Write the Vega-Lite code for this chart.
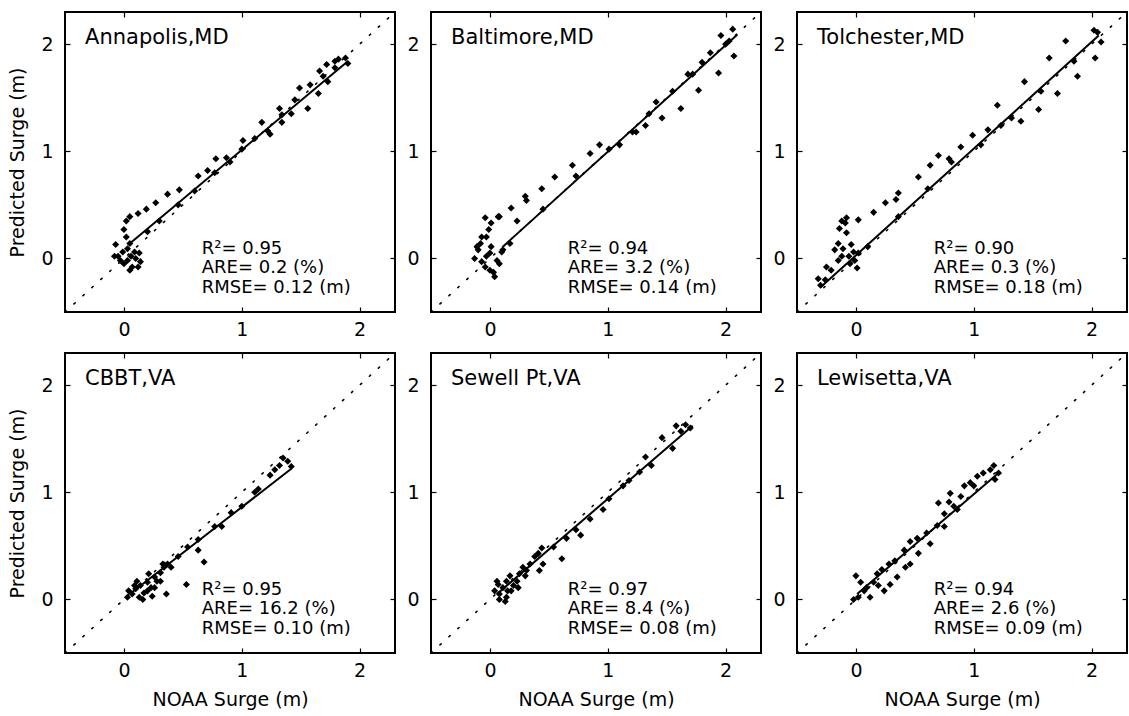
{
"$schema":"https://vega.github.io/schema/vega-lite/v6.json",
"background":"white",
"padding":{"left":7,"top":7,"right":0,"bottom":0},
"datasets":{
"diag":[{"v":-0.5},{"v":2.3}],
"fit":[
{"s":"AN","x":0.05,"y":0.14},{"s":"AN","x":1.90,"y":1.84},
{"s":"BA","x":0.11,"y":0.11},{"s":"BA","x":2.10,"y":2.09},
{"s":"TO","x":-0.30,"y":-0.27},{"s":"TO","x":2.06,"y":2.08},
{"s":"CB","x":0.05,"y":0.05},{"s":"CB","x":1.42,"y":1.22},
{"s":"SE","x":0.06,"y":0.05},{"s":"SE","x":1.72,"y":1.62},
{"s":"LE","x":0.01,"y":0.05},{"s":"LE","x":1.20,"y":1.17}
],
"ann":[
{"s":"AN","name":"Annapolis,MD","r2":"R²= 0.95","are":"ARE= 0.2 (%)","rmse":"RMSE= 0.12 (m)"},
{"s":"BA","name":"Baltimore,MD","r2":"R²= 0.94","are":"ARE= 3.2 (%)","rmse":"RMSE= 0.14 (m)"},
{"s":"TO","name":"Tolchester,MD","r2":"R²= 0.90","are":"ARE= 0.3 (%)","rmse":"RMSE= 0.18 (m)"},
{"s":"CB","name":"CBBT,VA","r2":"R²= 0.95","are":"ARE= 16.2 (%)","rmse":"RMSE= 0.10 (m)"},
{"s":"SE","name":"Sewell Pt,VA","r2":"R²= 0.97","are":"ARE= 8.4 (%)","rmse":"RMSE= 0.08 (m)"},
{"s":"LE","name":"Lewisetta,VA","r2":"R²= 0.94","are":"ARE= 2.6 (%)","rmse":"RMSE= 0.09 (m)"}
],
"pts":[
{"s":"AN","x":-0.07,"y":0.13},{"s":"AN","x":-0.05,"y":0.02},{"s":"AN","x":-0.01,"y":0.06},{"s":"AN","x":0.00,"y":-0.05},{"s":"AN","x":0.03,"y":-0.02},{"s":"AN","x":0.06,"y":0.02},{"s":"AN","x":0.07,"y":-0.08},{"s":"AN","x":0.10,"y":0.00},{"s":"AN","x":0.13,"y":0.05},{"s":"AN","x":0.14,"y":-0.03},{"s":"AN","x":0.03,"y":0.09},{"s":"AN","x":0.02,"y":0.20},{"s":"AN","x":0.00,"y":0.27},{"s":"AN","x":0.02,"y":0.35},{"s":"AN","x":0.05,"y":0.14},{"s":"AN","x":-0.03,"y":-0.02},{"s":"AN","x":0.09,"y":0.06},{"s":"AN","x":-0.08,"y":0.02},{"s":"AN","x":0.12,"y":-0.08},{"s":"AN","x":0.05,"y":-0.11},
{"s":"AN","x":0.05,"y":0.39},{"s":"AN","x":0.12,"y":0.42},{"s":"AN","x":0.19,"y":0.46},{"s":"AN","x":0.27,"y":0.52},{"s":"AN","x":0.37,"y":0.60},{"s":"AN","x":0.47,"y":0.64},{"s":"AN","x":0.63,"y":0.77},{"s":"AN","x":0.71,"y":0.82},{"s":"AN","x":0.78,"y":0.93},{"s":"AN","x":0.87,"y":0.94},{"s":"AN","x":1.01,"y":1.10},{"s":"AN","x":1.17,"y":1.27},{"s":"AN","x":1.24,"y":1.16},{"s":"AN","x":1.34,"y":1.27},{"s":"AN","x":1.32,"y":1.40},{"s":"AN","x":1.42,"y":1.35},{"s":"AN","x":1.49,"y":1.59},{"s":"AN","x":1.56,"y":1.40},{"s":"AN","x":1.65,"y":1.54},{"s":"AN","x":1.73,"y":1.65},{"s":"AN","x":1.66,"y":1.75},{"s":"AN","x":1.72,"y":1.81},{"s":"AN","x":1.79,"y":1.78},{"s":"AN","x":1.82,"y":1.86},{"s":"AN","x":1.88,"y":1.87},{"s":"AN","x":1.90,"y":1.82},
{"s":"AN","x":0.20,"y":0.25},{"s":"AN","x":0.30,"y":0.35},{"s":"AN","x":0.46,"y":0.50},{"s":"AN","x":0.60,"y":0.63},{"s":"AN","x":0.77,"y":0.80},{"s":"AN","x":0.90,"y":0.90},{"s":"AN","x":1.00,"y":1.02},{"s":"AN","x":1.11,"y":1.12},{"s":"AN","x":1.22,"y":1.19},{"s":"AN","x":1.34,"y":1.34},{"s":"AN","x":1.45,"y":1.48},{"s":"AN","x":1.58,"y":1.62},{"s":"AN","x":1.69,"y":1.70},{"s":"AN","x":1.79,"y":1.84},
{"s":"BA","x":-0.13,"y":0.00},{"s":"BA","x":-0.10,"y":0.08},{"s":"BA","x":-0.08,"y":0.14},{"s":"BA","x":-0.07,"y":-0.03},{"s":"BA","x":-0.04,"y":-0.08},{"s":"BA","x":-0.03,"y":0.02},{"s":"BA","x":0.00,"y":0.05},{"s":"BA","x":0.03,"y":-0.13},{"s":"BA","x":0.04,"y":-0.17},{"s":"BA","x":0.06,"y":-0.02},{"s":"BA","x":0.08,"y":-0.05},{"s":"BA","x":0.10,"y":0.06},{"s":"BA","x":-0.03,"y":0.20},{"s":"BA","x":-0.01,"y":0.27},{"s":"BA","x":0.01,"y":0.33},{"s":"BA","x":-0.04,"y":0.38},{"s":"BA","x":0.07,"y":0.39},{"s":"BA","x":-0.07,"y":0.20},{"s":"BA","x":-0.11,"y":0.11},{"s":"BA","x":0.01,"y":0.11},{"s":"BA","x":0.11,"y":0.08},{"s":"BA","x":0.00,"y":-0.11},
{"s":"BA","x":0.08,"y":0.39},{"s":"BA","x":0.18,"y":0.47},{"s":"BA","x":0.23,"y":0.35},{"s":"BA","x":0.30,"y":0.58},{"s":"BA","x":0.31,"y":0.54},{"s":"BA","x":0.44,"y":0.65},{"s":"BA","x":0.55,"y":0.76},{"s":"BA","x":0.70,"y":0.87},{"s":"BA","x":0.85,"y":0.98},{"s":"BA","x":0.93,"y":1.06},{"s":"BA","x":1.10,"y":1.06},{"s":"BA","x":1.24,"y":1.18},{"s":"BA","x":1.32,"y":1.24},{"s":"BA","x":1.41,"y":1.46},{"s":"BA","x":1.46,"y":1.31},{"s":"BA","x":1.62,"y":1.40},{"s":"BA","x":1.68,"y":1.72},{"s":"BA","x":1.77,"y":1.57},{"s":"BA","x":1.87,"y":1.92},{"s":"BA","x":1.94,"y":1.73},{"s":"BA","x":1.96,"y":2.08},{"s":"BA","x":2.06,"y":2.14},{"s":"BA","x":2.07,"y":1.89},{"s":"BA","x":2.03,"y":2.03},
{"s":"BA","x":0.17,"y":0.14},{"s":"BA","x":0.45,"y":0.46},{"s":"BA","x":0.73,"y":0.77},{"s":"BA","x":1.01,"y":1.02},{"s":"BA","x":1.21,"y":1.18},{"s":"BA","x":1.35,"y":1.35},{"s":"BA","x":1.55,"y":1.56},{"s":"BA","x":1.72,"y":1.72},{"s":"BA","x":1.80,"y":1.83},{"s":"BA","x":2.00,"y":2.00},
{"s":"TO","x":-0.32,"y":-0.19},{"s":"TO","x":-0.30,"y":-0.25},{"s":"TO","x":-0.25,"y":-0.08},{"s":"TO","x":-0.18,"y":0.08},{"s":"TO","x":-0.15,"y":0.14},{"s":"TO","x":-0.12,"y":0.35},{"s":"TO","x":-0.09,"y":0.33},{"s":"TO","x":-0.08,"y":0.24},{"s":"TO","x":-0.06,"y":0.02},{"s":"TO","x":-0.05,"y":-0.05},{"s":"TO","x":-0.02,"y":0.06},{"s":"TO","x":-0.01,"y":-0.02},{"s":"TO","x":0.02,"y":0.05},{"s":"TO","x":-0.12,"y":0.02},{"s":"TO","x":-0.15,"y":-0.02},{"s":"TO","x":-0.11,"y":0.09},{"s":"TO","x":-0.04,"y":0.13},{"s":"TO","x":0.01,"y":-0.09},{"s":"TO","x":-0.14,"y":0.28},{"s":"TO","x":-0.08,"y":0.38},{"s":"TO","x":-0.21,"y":-0.11},{"s":"TO","x":-0.26,"y":-0.20},
{"s":"TO","x":0.02,"y":0.36},{"s":"TO","x":0.15,"y":0.43},{"s":"TO","x":0.25,"y":0.52},{"s":"TO","x":0.36,"y":0.61},{"s":"TO","x":0.34,"y":0.55},{"s":"TO","x":0.53,"y":0.76},{"s":"TO","x":0.63,"y":0.87},{"s":"TO","x":0.70,"y":0.96},{"s":"TO","x":0.79,"y":0.93},{"s":"TO","x":0.89,"y":1.04},{"s":"TO","x":0.99,"y":1.15},{"s":"TO","x":1.12,"y":1.20},{"s":"TO","x":1.20,"y":1.43},{"s":"TO","x":1.23,"y":1.24},{"s":"TO","x":1.40,"y":1.28},{"s":"TO","x":1.43,"y":1.65},{"s":"TO","x":1.55,"y":1.39},{"s":"TO","x":1.64,"y":1.87},{"s":"TO","x":1.71,"y":1.54},{"s":"TO","x":1.78,"y":2.03},{"s":"TO","x":1.88,"y":1.70},{"s":"TO","x":2.02,"y":2.13},{"s":"TO","x":2.03,"y":1.87},{"s":"TO","x":2.08,"y":2.02},{"s":"TO","x":2.05,"y":2.11},
{"s":"TO","x":0.10,"y":0.11},{"s":"TO","x":0.36,"y":0.39},{"s":"TO","x":0.61,"y":0.65},{"s":"TO","x":0.81,"y":0.90},{"s":"TO","x":1.06,"y":1.06},{"s":"TO","x":1.32,"y":1.31},{"s":"TO","x":1.57,"y":1.56},{"s":"TO","x":1.85,"y":1.84},
{"s":"CB","x":0.04,"y":0.08},{"s":"CB","x":0.07,"y":0.05},{"s":"CB","x":0.10,"y":0.10},{"s":"CB","x":0.13,"y":0.02},{"s":"CB","x":0.14,"y":0.13},{"s":"CB","x":0.17,"y":0.06},{"s":"CB","x":0.20,"y":0.16},{"s":"CB","x":0.23,"y":0.11},{"s":"CB","x":0.26,"y":0.21},{"s":"CB","x":0.28,"y":0.17},{"s":"CB","x":0.31,"y":0.25},{"s":"CB","x":0.34,"y":0.30},{"s":"CB","x":0.37,"y":0.33},{"s":"CB","x":0.24,"y":0.03},{"s":"CB","x":0.36,"y":0.05},{"s":"CB","x":0.53,"y":0.14},{"s":"CB","x":0.68,"y":0.35},{"s":"CB","x":0.40,"y":0.30},{"s":"CB","x":0.46,"y":0.40},{"s":"CB","x":0.54,"y":0.49},{"s":"CB","x":0.63,"y":0.56},{"s":"CB","x":0.63,"y":0.46},{"s":"CB","x":0.77,"y":0.68},{"s":"CB","x":0.83,"y":0.68},{"s":"CB","x":0.91,"y":0.81},{"s":"CB","x":1.00,"y":0.87},{"s":"CB","x":1.11,"y":1.00},{"s":"CB","x":1.14,"y":1.03},{"s":"CB","x":1.24,"y":1.16},{"s":"CB","x":1.32,"y":1.25},{"s":"CB","x":1.35,"y":1.32},{"s":"CB","x":1.39,"y":1.29},{"s":"CB","x":1.42,"y":1.24},{"s":"CB","x":1.28,"y":1.21},{"s":"CB","x":0.11,"y":0.17},{"s":"CB","x":0.03,"y":0.02},{"s":"CB","x":0.20,"y":0.08},{"s":"CB","x":0.26,"y":0.11},{"s":"CB","x":0.31,"y":0.17},{"s":"CB","x":0.09,"y":0.13},{"s":"CB","x":0.16,"y":0.00},{"s":"CB","x":0.21,"y":0.24},{"s":"CB","x":0.33,"y":0.33},
{"s":"SE","x":0.04,"y":0.08},{"s":"SE","x":0.07,"y":0.14},{"s":"SE","x":0.08,"y":0.05},{"s":"SE","x":0.11,"y":0.11},{"s":"SE","x":0.13,"y":-0.02},{"s":"SE","x":0.14,"y":0.17},{"s":"SE","x":0.15,"y":0.08},{"s":"SE","x":0.17,"y":0.22},{"s":"SE","x":0.20,"y":0.13},{"s":"SE","x":0.23,"y":0.17},{"s":"SE","x":0.25,"y":0.24},{"s":"SE","x":0.28,"y":0.30},{"s":"SE","x":0.31,"y":0.27},{"s":"SE","x":0.34,"y":0.33},{"s":"SE","x":0.38,"y":0.40},{"s":"SE","x":0.41,"y":0.43},{"s":"SE","x":0.44,"y":0.48},{"s":"SE","x":0.42,"y":0.27},{"s":"SE","x":0.45,"y":0.33},{"s":"SE","x":0.61,"y":0.38},{"s":"SE","x":0.54,"y":0.49},{"s":"SE","x":0.65,"y":0.57},{"s":"SE","x":0.77,"y":0.60},{"s":"SE","x":0.73,"y":0.65},{"s":"SE","x":0.85,"y":0.75},{"s":"SE","x":0.96,"y":0.84},{"s":"SE","x":1.01,"y":0.94},{"s":"SE","x":1.13,"y":1.06},{"s":"SE","x":1.18,"y":1.11},{"s":"SE","x":1.27,"y":1.19},{"s":"SE","x":1.32,"y":1.33},{"s":"SE","x":1.37,"y":1.25},{"s":"SE","x":1.46,"y":1.51},{"s":"SE","x":1.55,"y":1.41},{"s":"SE","x":1.58,"y":1.62},{"s":"SE","x":1.62,"y":1.57},{"s":"SE","x":1.66,"y":1.63},{"s":"SE","x":1.70,"y":1.60},{"s":"SE","x":0.08,"y":0.00},{"s":"SE","x":0.14,"y":0.02},{"s":"SE","x":0.18,"y":0.08},{"s":"SE","x":0.06,"y":0.17},{"s":"SE","x":0.24,"y":0.11},{"s":"SE","x":0.30,"y":0.22},
{"s":"LE","x":-0.02,"y":0.00},{"s":"LE","x":0.00,"y":0.22},{"s":"LE","x":0.04,"y":0.16},{"s":"LE","x":0.07,"y":0.08},{"s":"LE","x":0.12,"y":0.02},{"s":"LE","x":0.15,"y":0.16},{"s":"LE","x":0.18,"y":0.24},{"s":"LE","x":0.22,"y":0.28},{"s":"LE","x":0.24,"y":0.08},{"s":"LE","x":0.28,"y":0.33},{"s":"LE","x":0.29,"y":0.14},{"s":"LE","x":0.33,"y":0.36},{"s":"LE","x":0.35,"y":0.21},{"s":"LE","x":0.41,"y":0.46},{"s":"LE","x":0.42,"y":0.30},{"s":"LE","x":0.46,"y":0.54},{"s":"LE","x":0.46,"y":0.33},{"s":"LE","x":0.53,"y":0.43},{"s":"LE","x":0.52,"y":0.57},{"s":"LE","x":0.60,"y":0.62},{"s":"LE","x":0.69,"y":0.69},{"s":"LE","x":0.75,"y":0.80},{"s":"LE","x":0.79,"y":0.91},{"s":"LE","x":0.75,"y":0.68},{"s":"LE","x":0.70,"y":0.90},{"s":"LE","x":0.80,"y":0.99},{"s":"LE","x":0.83,"y":0.87},{"s":"LE","x":0.89,"y":0.96},{"s":"LE","x":0.92,"y":1.06},{"s":"LE","x":0.97,"y":1.09},{"s":"LE","x":1.03,"y":1.15},{"s":"LE","x":1.08,"y":1.18},{"s":"LE","x":1.14,"y":1.21},{"s":"LE","x":1.18,"y":1.12},{"s":"LE","x":1.21,"y":1.18},{"s":"LE","x":1.17,"y":1.25},{"s":"LE","x":1.00,"y":1.06},{"s":"LE","x":0.86,"y":0.84},{"s":"LE","x":0.63,"y":0.52},{"s":"LE","x":0.09,"y":0.11},{"s":"LE","x":0.02,"y":0.02},{"s":"LE","x":0.19,"y":0.13}
]
},
"columns":3,
"spacing":{"row":41,"column":36},
"bounds":"flush",
"concat":[
{"width":330,"height":300,"resolve":{"axis":{"x":"independent","y":"independent"}},"layer":[
{"data":{"name":"diag"},"mark":{"type":"line","color":"black","strokeWidth":1.6,"strokeDash":[1.6,10.5],"strokeCap":"round"},"encoding":{"x":{"field":"v","type":"quantitative","scale":{"domain":[-0.5,2.3],"nice":false,"zero":false},"axis":{"orient":"top","values":[0,1,2],"labels":false,"title":null}},"y":{"field":"v","type":"quantitative","scale":{"domain":[-0.5,2.3],"nice":false,"zero":false},"axis":{"orient":"right","values":[0,1,2],"labels":false,"title":null}}}},
{"data":{"name":"fit"},"transform":[{"filter":"datum.s==='AN'"}],"mark":{"type":"line","color":"black","strokeWidth":2},"encoding":{"x":{"field":"x","type":"quantitative","scale":{"domain":[-0.5,2.3],"nice":false,"zero":false},"axis":{"orient":"bottom","values":[0,1,2],"title":null}},"y":{"field":"y","type":"quantitative","scale":{"domain":[-0.5,2.3],"nice":false,"zero":false},"axis":{"orient":"left","values":[0,1,2],"title":"Predicted Surge (m)"}}}},
{"data":{"name":"pts"},"transform":[{"filter":"datum.s==='AN'"}],"mark":{"type":"point","shape":"diamond","filled":true,"color":"black","opacity":1,"size":50},"encoding":{"x":{"field":"x","type":"quantitative","axis":null},"y":{"field":"y","type":"quantitative","axis":null}}},
{"data":{"name":"ann"},"transform":[{"filter":"datum.s==='AN'"}],"mark":{"type":"text","align":"left","baseline":"alphabetic","fontSize":21},"encoding":{"x":{"datum":-0.33,"axis":null},"y":{"datum":2.0,"axis":null},"text":{"field":"name"}}},
{"data":{"name":"ann"},"transform":[{"filter":"datum.s==='AN'"}],"mark":{"type":"text","align":"left","baseline":"alphabetic"},"encoding":{"x":{"datum":0.66,"axis":null},"y":{"datum":0.04,"axis":null},"text":{"field":"r2"}}},
{"data":{"name":"ann"},"transform":[{"filter":"datum.s==='AN'"}],"mark":{"type":"text","align":"left","baseline":"alphabetic"},"encoding":{"x":{"datum":0.66,"axis":null},"y":{"datum":-0.14,"axis":null},"text":{"field":"are"}}},
{"data":{"name":"ann"},"transform":[{"filter":"datum.s==='AN'"}],"mark":{"type":"text","align":"left","baseline":"alphabetic"},"encoding":{"x":{"datum":0.66,"axis":null},"y":{"datum":-0.32,"axis":null},"text":{"field":"rmse"}}}
]},
{"width":330,"height":300,"resolve":{"axis":{"x":"independent","y":"independent"}},"layer":[
{"data":{"name":"diag"},"mark":{"type":"line","color":"black","strokeWidth":1.6,"strokeDash":[1.6,10.5],"strokeCap":"round"},"encoding":{"x":{"field":"v","type":"quantitative","scale":{"domain":[-0.5,2.3],"nice":false,"zero":false},"axis":{"orient":"top","values":[0,1,2],"labels":false,"title":null}},"y":{"field":"v","type":"quantitative","scale":{"domain":[-0.5,2.3],"nice":false,"zero":false},"axis":{"orient":"right","values":[0,1,2],"labels":false,"title":null}}}},
{"data":{"name":"fit"},"transform":[{"filter":"datum.s==='BA'"}],"mark":{"type":"line","color":"black","strokeWidth":2},"encoding":{"x":{"field":"x","type":"quantitative","scale":{"domain":[-0.5,2.3],"nice":false,"zero":false},"axis":{"orient":"bottom","values":[0,1,2],"title":null}},"y":{"field":"y","type":"quantitative","scale":{"domain":[-0.5,2.3],"nice":false,"zero":false},"axis":{"orient":"left","values":[0,1,2],"title":null}}}},
{"data":{"name":"pts"},"transform":[{"filter":"datum.s==='BA'"}],"mark":{"type":"point","shape":"diamond","filled":true,"color":"black","opacity":1,"size":50},"encoding":{"x":{"field":"x","type":"quantitative","axis":null},"y":{"field":"y","type":"quantitative","axis":null}}},
{"data":{"name":"ann"},"transform":[{"filter":"datum.s==='BA'"}],"mark":{"type":"text","align":"left","baseline":"alphabetic","fontSize":21},"encoding":{"x":{"datum":-0.33,"axis":null},"y":{"datum":2.0,"axis":null},"text":{"field":"name"}}},
{"data":{"name":"ann"},"transform":[{"filter":"datum.s==='BA'"}],"mark":{"type":"text","align":"left","baseline":"alphabetic"},"encoding":{"x":{"datum":0.66,"axis":null},"y":{"datum":0.04,"axis":null},"text":{"field":"r2"}}},
{"data":{"name":"ann"},"transform":[{"filter":"datum.s==='BA'"}],"mark":{"type":"text","align":"left","baseline":"alphabetic"},"encoding":{"x":{"datum":0.66,"axis":null},"y":{"datum":-0.14,"axis":null},"text":{"field":"are"}}},
{"data":{"name":"ann"},"transform":[{"filter":"datum.s==='BA'"}],"mark":{"type":"text","align":"left","baseline":"alphabetic"},"encoding":{"x":{"datum":0.66,"axis":null},"y":{"datum":-0.32,"axis":null},"text":{"field":"rmse"}}}
]},
{"width":330,"height":300,"resolve":{"axis":{"x":"independent","y":"independent"}},"layer":[
{"data":{"name":"diag"},"mark":{"type":"line","color":"black","strokeWidth":1.6,"strokeDash":[1.6,10.5],"strokeCap":"round"},"encoding":{"x":{"field":"v","type":"quantitative","scale":{"domain":[-0.5,2.3],"nice":false,"zero":false},"axis":{"orient":"top","values":[0,1,2],"labels":false,"title":null}},"y":{"field":"v","type":"quantitative","scale":{"domain":[-0.5,2.3],"nice":false,"zero":false},"axis":{"orient":"right","values":[0,1,2],"labels":false,"title":null}}}},
{"data":{"name":"fit"},"transform":[{"filter":"datum.s==='TO'"}],"mark":{"type":"line","color":"black","strokeWidth":2},"encoding":{"x":{"field":"x","type":"quantitative","scale":{"domain":[-0.5,2.3],"nice":false,"zero":false},"axis":{"orient":"bottom","values":[0,1,2],"title":null}},"y":{"field":"y","type":"quantitative","scale":{"domain":[-0.5,2.3],"nice":false,"zero":false},"axis":{"orient":"left","values":[0,1,2],"title":null}}}},
{"data":{"name":"pts"},"transform":[{"filter":"datum.s==='TO'"}],"mark":{"type":"point","shape":"diamond","filled":true,"color":"black","opacity":1,"size":50},"encoding":{"x":{"field":"x","type":"quantitative","axis":null},"y":{"field":"y","type":"quantitative","axis":null}}},
{"data":{"name":"ann"},"transform":[{"filter":"datum.s==='TO'"}],"mark":{"type":"text","align":"left","baseline":"alphabetic","fontSize":21},"encoding":{"x":{"datum":-0.33,"axis":null},"y":{"datum":2.0,"axis":null},"text":{"field":"name"}}},
{"data":{"name":"ann"},"transform":[{"filter":"datum.s==='TO'"}],"mark":{"type":"text","align":"left","baseline":"alphabetic"},"encoding":{"x":{"datum":0.66,"axis":null},"y":{"datum":0.04,"axis":null},"text":{"field":"r2"}}},
{"data":{"name":"ann"},"transform":[{"filter":"datum.s==='TO'"}],"mark":{"type":"text","align":"left","baseline":"alphabetic"},"encoding":{"x":{"datum":0.66,"axis":null},"y":{"datum":-0.14,"axis":null},"text":{"field":"are"}}},
{"data":{"name":"ann"},"transform":[{"filter":"datum.s==='TO'"}],"mark":{"type":"text","align":"left","baseline":"alphabetic"},"encoding":{"x":{"datum":0.66,"axis":null},"y":{"datum":-0.32,"axis":null},"text":{"field":"rmse"}}}
]},
{"width":330,"height":300,"resolve":{"axis":{"x":"independent","y":"independent"}},"layer":[
{"data":{"name":"diag"},"mark":{"type":"line","color":"black","strokeWidth":1.6,"strokeDash":[1.6,10.5],"strokeCap":"round"},"encoding":{"x":{"field":"v","type":"quantitative","scale":{"domain":[-0.5,2.3],"nice":false,"zero":false},"axis":{"orient":"top","values":[0,1,2],"labels":false,"title":null}},"y":{"field":"v","type":"quantitative","scale":{"domain":[-0.5,2.3],"nice":false,"zero":false},"axis":{"orient":"right","values":[0,1,2],"labels":false,"title":null}}}},
{"data":{"name":"fit"},"transform":[{"filter":"datum.s==='CB'"}],"mark":{"type":"line","color":"black","strokeWidth":2},"encoding":{"x":{"field":"x","type":"quantitative","scale":{"domain":[-0.5,2.3],"nice":false,"zero":false},"axis":{"orient":"bottom","values":[0,1,2],"title":"NOAA Surge (m)"}},"y":{"field":"y","type":"quantitative","scale":{"domain":[-0.5,2.3],"nice":false,"zero":false},"axis":{"orient":"left","values":[0,1,2],"title":"Predicted Surge (m)"}}}},
{"data":{"name":"pts"},"transform":[{"filter":"datum.s==='CB'"}],"mark":{"type":"point","shape":"diamond","filled":true,"color":"black","opacity":1,"size":50},"encoding":{"x":{"field":"x","type":"quantitative","axis":null},"y":{"field":"y","type":"quantitative","axis":null}}},
{"data":{"name":"ann"},"transform":[{"filter":"datum.s==='CB'"}],"mark":{"type":"text","align":"left","baseline":"alphabetic","fontSize":21},"encoding":{"x":{"datum":-0.33,"axis":null},"y":{"datum":2.0,"axis":null},"text":{"field":"name"}}},
{"data":{"name":"ann"},"transform":[{"filter":"datum.s==='CB'"}],"mark":{"type":"text","align":"left","baseline":"alphabetic"},"encoding":{"x":{"datum":0.66,"axis":null},"y":{"datum":0.04,"axis":null},"text":{"field":"r2"}}},
{"data":{"name":"ann"},"transform":[{"filter":"datum.s==='CB'"}],"mark":{"type":"text","align":"left","baseline":"alphabetic"},"encoding":{"x":{"datum":0.66,"axis":null},"y":{"datum":-0.14,"axis":null},"text":{"field":"are"}}},
{"data":{"name":"ann"},"transform":[{"filter":"datum.s==='CB'"}],"mark":{"type":"text","align":"left","baseline":"alphabetic"},"encoding":{"x":{"datum":0.66,"axis":null},"y":{"datum":-0.32,"axis":null},"text":{"field":"rmse"}}}
]},
{"width":330,"height":300,"resolve":{"axis":{"x":"independent","y":"independent"}},"layer":[
{"data":{"name":"diag"},"mark":{"type":"line","color":"black","strokeWidth":1.6,"strokeDash":[1.6,10.5],"strokeCap":"round"},"encoding":{"x":{"field":"v","type":"quantitative","scale":{"domain":[-0.5,2.3],"nice":false,"zero":false},"axis":{"orient":"top","values":[0,1,2],"labels":false,"title":null}},"y":{"field":"v","type":"quantitative","scale":{"domain":[-0.5,2.3],"nice":false,"zero":false},"axis":{"orient":"right","values":[0,1,2],"labels":false,"title":null}}}},
{"data":{"name":"fit"},"transform":[{"filter":"datum.s==='SE'"}],"mark":{"type":"line","color":"black","strokeWidth":2},"encoding":{"x":{"field":"x","type":"quantitative","scale":{"domain":[-0.5,2.3],"nice":false,"zero":false},"axis":{"orient":"bottom","values":[0,1,2],"title":"NOAA Surge (m)"}},"y":{"field":"y","type":"quantitative","scale":{"domain":[-0.5,2.3],"nice":false,"zero":false},"axis":{"orient":"left","values":[0,1,2],"title":null}}}},
{"data":{"name":"pts"},"transform":[{"filter":"datum.s==='SE'"}],"mark":{"type":"point","shape":"diamond","filled":true,"color":"black","opacity":1,"size":50},"encoding":{"x":{"field":"x","type":"quantitative","axis":null},"y":{"field":"y","type":"quantitative","axis":null}}},
{"data":{"name":"ann"},"transform":[{"filter":"datum.s==='SE'"}],"mark":{"type":"text","align":"left","baseline":"alphabetic","fontSize":21},"encoding":{"x":{"datum":-0.33,"axis":null},"y":{"datum":2.0,"axis":null},"text":{"field":"name"}}},
{"data":{"name":"ann"},"transform":[{"filter":"datum.s==='SE'"}],"mark":{"type":"text","align":"left","baseline":"alphabetic"},"encoding":{"x":{"datum":0.66,"axis":null},"y":{"datum":0.04,"axis":null},"text":{"field":"r2"}}},
{"data":{"name":"ann"},"transform":[{"filter":"datum.s==='SE'"}],"mark":{"type":"text","align":"left","baseline":"alphabetic"},"encoding":{"x":{"datum":0.66,"axis":null},"y":{"datum":-0.14,"axis":null},"text":{"field":"are"}}},
{"data":{"name":"ann"},"transform":[{"filter":"datum.s==='SE'"}],"mark":{"type":"text","align":"left","baseline":"alphabetic"},"encoding":{"x":{"datum":0.66,"axis":null},"y":{"datum":-0.32,"axis":null},"text":{"field":"rmse"}}}
]},
{"width":330,"height":300,"resolve":{"axis":{"x":"independent","y":"independent"}},"layer":[
{"data":{"name":"diag"},"mark":{"type":"line","color":"black","strokeWidth":1.6,"strokeDash":[1.6,10.5],"strokeCap":"round"},"encoding":{"x":{"field":"v","type":"quantitative","scale":{"domain":[-0.5,2.3],"nice":false,"zero":false},"axis":{"orient":"top","values":[0,1,2],"labels":false,"title":null}},"y":{"field":"v","type":"quantitative","scale":{"domain":[-0.5,2.3],"nice":false,"zero":false},"axis":{"orient":"right","values":[0,1,2],"labels":false,"title":null}}}},
{"data":{"name":"fit"},"transform":[{"filter":"datum.s==='LE'"}],"mark":{"type":"line","color":"black","strokeWidth":2},"encoding":{"x":{"field":"x","type":"quantitative","scale":{"domain":[-0.5,2.3],"nice":false,"zero":false},"axis":{"orient":"bottom","values":[0,1,2],"title":"NOAA Surge (m)"}},"y":{"field":"y","type":"quantitative","scale":{"domain":[-0.5,2.3],"nice":false,"zero":false},"axis":{"orient":"left","values":[0,1,2],"title":null}}}},
{"data":{"name":"pts"},"transform":[{"filter":"datum.s==='LE'"}],"mark":{"type":"point","shape":"diamond","filled":true,"color":"black","opacity":1,"size":50},"encoding":{"x":{"field":"x","type":"quantitative","axis":null},"y":{"field":"y","type":"quantitative","axis":null}}},
{"data":{"name":"ann"},"transform":[{"filter":"datum.s==='LE'"}],"mark":{"type":"text","align":"left","baseline":"alphabetic","fontSize":21},"encoding":{"x":{"datum":-0.33,"axis":null},"y":{"datum":2.0,"axis":null},"text":{"field":"name"}}},
{"data":{"name":"ann"},"transform":[{"filter":"datum.s==='LE'"}],"mark":{"type":"text","align":"left","baseline":"alphabetic"},"encoding":{"x":{"datum":0.66,"axis":null},"y":{"datum":0.04,"axis":null},"text":{"field":"r2"}}},
{"data":{"name":"ann"},"transform":[{"filter":"datum.s==='LE'"}],"mark":{"type":"text","align":"left","baseline":"alphabetic"},"encoding":{"x":{"datum":0.66,"axis":null},"y":{"datum":-0.14,"axis":null},"text":{"field":"are"}}},
{"data":{"name":"ann"},"transform":[{"filter":"datum.s==='LE'"}],"mark":{"type":"text","align":"left","baseline":"alphabetic"},"encoding":{"x":{"datum":0.66,"axis":null},"y":{"datum":-0.32,"axis":null},"text":{"field":"rmse"}}}
]}
],
"config":{
"view":{"stroke":"black","strokeWidth":2},
"axis":{"domain":false,"grid":false,"ticks":true,"tickSize":-5,"tickColor":"black","tickWidth":1.2,"labelFont":"DejaVu Sans","labelFontSize":19,"labelColor":"black","titleFont":"DejaVu Sans","titleFontSize":19,"titleFontWeight":"normal","titleColor":"black","titlePadding":13},
"axisX":{"labelPadding":13,"titlePadding":10},
"axisY":{"labelPadding":17},
"text":{"font":"DejaVu Sans","fontSize":18,"color":"black"}
}
}
